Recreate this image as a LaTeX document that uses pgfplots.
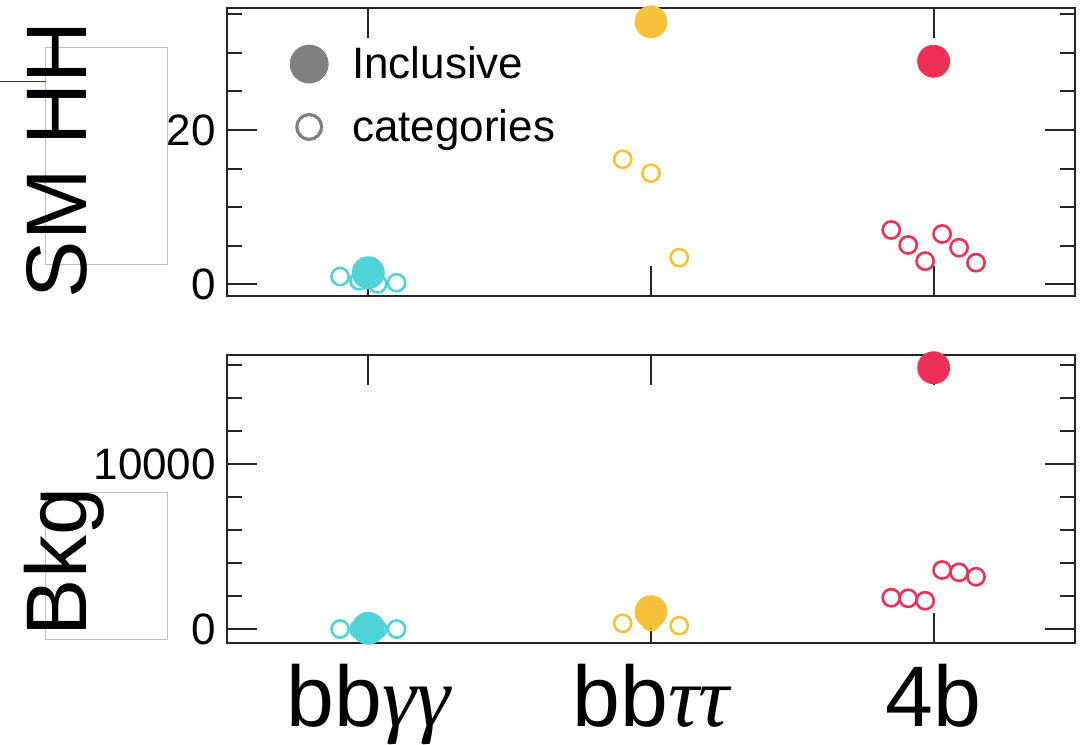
\documentclass[border=0pt]{standalone}
\usepackage{fontspec}
\setmainfont{Liberation Sans}
\newfontfamily\grk{Liberation Serif}
\usepackage{pgfplots}
\pgfplotsset{compat=1.18}

\definecolor{cy}{RGB}{77,212,216}
\definecolor{ye}{RGB}{247,194,58}
\definecolor{re}{RGB}{238,48,86}
\definecolor{lg}{RGB}{128,128,128}
\definecolor{strayblue}{RGB}{30,45,170}

\pgfplotsset{
  base/.style={
    scale only axis, width=424pt, height=144pt,
    xmin=-0.5, xmax=2.5,
    xtick={0,1,2},
    tick align=inside,
    major tick length=15pt, minor tick length=7.5pt,
    axis line style={line width=1.2pt, black!85},
    tick style={line width=1pt, black!85},
    tick label style={font=\fontsize{22}{26}\selectfont},
    yticklabel style={xshift=-2pt},
    /pgf/number format/assume math mode=true,
    /pgf/number format/set thousands separator={},
    scaled y ticks=false,
    clip=false,
  },
  incl/.style={only marks, color=#1, mark=*, mark size=8.0pt, mark options={draw=#1, fill=#1, line width=0.4pt}},
  cat/.style={only marks, color=#1, mark=o, mark size=4.3pt, mark options={draw=#1, line width=1.3pt, fill=none}},
}

\begin{document}
\begin{tikzpicture}
% stray frame artefacts of the original figure
\draw[black!25, line width=0.5pt] (22.85pt,-23.85pt) rectangle (83.65pt,-132.15pt);
\draw[black!25, line width=0.5pt] (22.85pt,-246.35pt) rectangle (83.65pt,-319.5pt);
\draw[strayblue, line width=0.7pt] (0pt,-40.85pt) -- (22.85pt,-40.85pt);

\begin{axis}[base,
  at={(113.5pt,-4pt)}, anchor=north west,
  ymin=-1.52, ymax=35.8,
  ytick={0,20}, minor ytick={5,10,15,25,30,35},
  xticklabels={},
  legend style={at={(0.067,0.895)}, anchor=north west, draw=none, fill=none,
    font=\fontsize{22}{26}\selectfont, row sep=10pt,
    /tikz/every odd column/.append style={column sep=10pt}},
  legend cell align=left,
]
\addlegendimage{only marks, color=lg, mark=*, mark size=9.5pt, mark options={draw=lg, fill=lg, line width=0.4pt}}
\addlegendentry{Inclusive}
\addlegendimage{only marks, color=lg, mark=o, mark size=6.2pt, mark options={draw=lg, line width=1.6pt, fill=none}}
\addlegendentry{categories}
% categories
\addplot[cat=cy] coordinates {(-0.1,1.0) (-0.033,0.45) (0.033,0.05) (0.1,0.2)};
\addplot[cat=ye] coordinates {(0.9,16.2) (1.0,14.4) (1.1,3.45)};
\addplot[cat=re] coordinates {(1.85,7.04) (1.91,5.09) (1.97,3.0) (2.03,6.52) (2.09,4.74) (2.15,2.8)};
% inclusive
\addplot[incl=cy] coordinates {(0,1.5)};
\addplot[incl=ye] coordinates {(1,34.0)};
\addplot[incl=re] coordinates {(2,28.9)};
\end{axis}

\begin{axis}[base,
  at={(113.5pt,-177.5pt)}, anchor=north west,
  ymin=-830, ymax=16624,
  ytick={0,10000}, minor ytick={2000,4000,6000,8000,12000,14000,16000},
  xticklabels={bb{\grk\itshape γγ}, bb{\grk\itshape ττ}, 4b},
  xticklabel style={font=\fontsize{43}{50}\selectfont, anchor=base, yshift=-41.5pt},
]
\addplot[cat=cy] coordinates {(-0.1,15) (-0.033,10) (0.033,10) (0.1,15)};
\addplot[cat=ye] coordinates {(0.9,364) (1.0,480) (1.1,218)};
\addplot[cat=re] coordinates {(1.85,1915) (1.91,1879) (1.97,1733) (2.03,3594) (2.09,3454) (2.15,3188)};
\addplot[incl=cy] coordinates {(0,60)};
\addplot[incl=ye] coordinates {(1,1067)};
\addplot[incl=re] coordinates {(2,15853)};
\end{axis}

\node[rotate=90, anchor=base, font=\fontsize{43}{50}\selectfont] at (43pt,-79.75pt) {SM HH};
\node[rotate=90, anchor=base, font=\fontsize{43}{50}\selectfont] at (43pt,-281pt) {Bkg};

\pgfresetboundingbox
\path[use as bounding box] (0pt,0pt) rectangle (544.5pt,-372.5pt);
\end{tikzpicture}
\end{document}
